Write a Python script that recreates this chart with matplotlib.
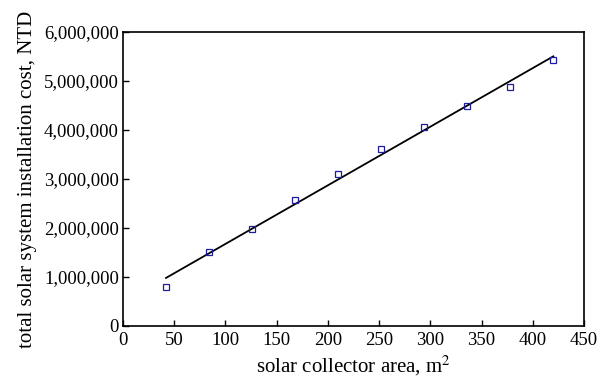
"""
Solar system installation cost vs collector area
"""

import matplotlib
matplotlib.use('Agg')
import matplotlib.pyplot as plt
import numpy as np
from matplotlib.ticker import FuncFormatter

# data
area = np.array([42, 84, 126, 168, 210, 252, 294, 336, 378, 420])
cost = np.array([790000, 1510000, 1975000, 2565000, 3100000,
                 3610000, 4070000, 4500000, 4880000, 5420000])

x_ticks = np.arange(0, 451, 50)
y_ticks = np.arange(0, 6000001, 1000000)

plt.rcParams['font.family'] = ['Liberation Serif', 'DejaVu Serif']
plt.rcParams['mathtext.fontset'] = 'stix'

fig = plt.figure(figsize=(5.99, 3.78), dpi=100)
ax = fig.add_axes([0.2053, 0.1376, 0.7697, 0.7777])

# linear fit through the points
k, b = np.polyfit(area, cost, 1)
xf = np.array([area.min(), area.max()])
ax.plot(xf, k * xf + b, color='black', lw=1.3, zorder=2)

ax.plot(area, cost, ls='none', marker='s', ms=5, mfc='none',
        mec='#1c1c9c', mew=0.9, zorder=3)

ax.set_xlim(0, 450)
ax.set_ylim(0, 6000000)
ax.set_xticks(x_ticks)
ax.set_yticks(y_ticks)
ax.yaxis.set_major_formatter(FuncFormatter(lambda v, p: format(int(v), ',')))

ax.tick_params(direction='in', length=4, width=1, labelsize=13.5,
               top=False, right=False, pad=3)
ax.tick_params(axis='x', pad=4)
for s in ax.spines.values():
    s.set_linewidth(1.2)

ax.set_xlabel(r'solar collector area, m$^2$', fontsize=15, labelpad=4)
ax.set_ylabel('total solar system installation cost, NTD', fontsize=15,
              labelpad=5)

fig.savefig('out.png', dpi=100)
plt.close()
